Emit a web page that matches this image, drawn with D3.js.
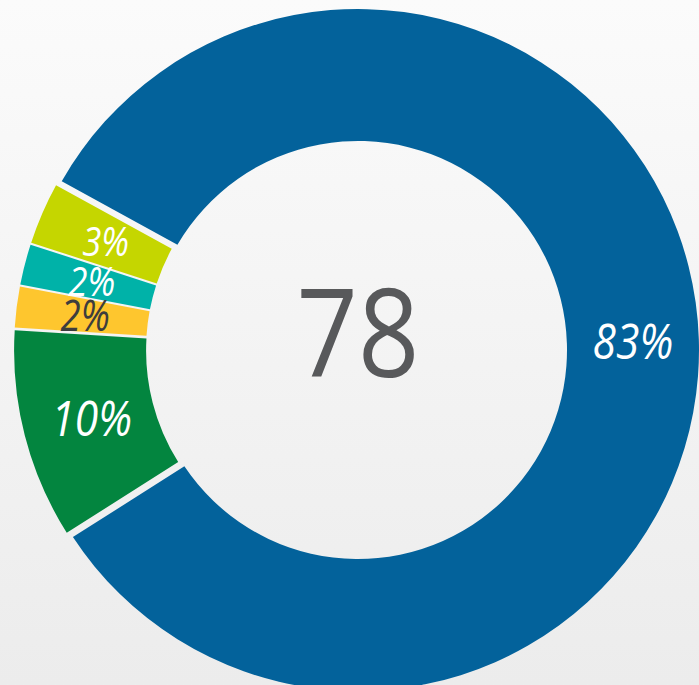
<!DOCTYPE html>
<html>
<head>
<meta charset="utf-8">
<title>Donut</title>
<script src="https://d3js.org/d3.v7.min.js"></script>
<style>
  html, body { margin: 0; padding: 0; }
  body { width: 699px; height: 685px; overflow: hidden; }
  svg { display: block; }
  .lbl { font-family: "Open Sans", sans-serif; font-style: italic; }
  .total { font-family: "Open Sans", sans-serif; fill: #58595b; }
</style>
</head>
<body>
<svg width="699" height="685"></svg>
<script>
// data
var categories = ["A", "B", "C", "D", "E"];
var values = [83, 10, 2, 2, 3];
var labels = ["83%", "10%", "2%", "2%", "3%"];
var colors = ["#03629b", "#03853f", "#fec62e", "#00b2a8", "#c5d600"];
var labelColors = ["#fff", "#fff", "#3d3d3d", "#fff", "#fff"];
var labelSizes = [50, 50, 43, 41, 41];
var centerText = "78";

var svg = d3.select("svg"),
    width = +svg.attr("width"),
    height = +svg.attr("height"),
    cx = 358, cy = 350,
    outerR = 341, innerR = 209;

// background gradient
var defs = svg.append("defs");
var grad = defs.append("linearGradient").attr("id", "bg")
  .attr("x1", 0).attr("y1", 0).attr("x2", 0).attr("y2", 1);
grad.append("stop").attr("offset", "0%").attr("stop-color", "#fbfbfb");
grad.append("stop").attr("offset", "100%").attr("stop-color", "#ececec");
svg.append("rect").attr("width", width).attr("height", height).attr("fill", "url(#bg)");

var pie = d3.pie().sort(null)
  .startAngle(-61.2 * Math.PI / 180)
  .endAngle((360 - 61.2) * Math.PI / 180);

var arcs = pie(values);

var arc = d3.arc()
  .innerRadius(innerR)
  .outerRadius(outerR)
  .padRadius(400)
  .padAngle(function(d) { return d.index === 0 ? 0.026 : 0.004; });

var labelArc = d3.arc()
  .innerRadius((innerR + outerR) / 2)
  .outerRadius((innerR + outerR) / 2);

// small slices pulled out a little
function offset(d) {
  if (d.index === 0) return [0, 0];
  var a = (d.startAngle + d.endAngle) / 2;
  return [3 * Math.sin(a), -3 * Math.cos(a)];
}

var g = svg.append("g").attr("transform", "translate(" + cx + "," + cy + ")");

g.selectAll("path")
  .data(arcs)
  .enter().append("path")
  .attr("transform", function(d) { return "translate(" + offset(d) + ")"; })
  .attr("d", arc)
  .attr("fill", function(d, i) { return colors[i]; });

g.selectAll(".lbl")
  .data(arcs)
  .enter().append("text")
  .attr("class", "lbl")
  .attr("transform", function(d) { return "translate(" + labelArc.centroid(d) + ") scale(0.85,1)"; })
  .attr("text-anchor", "middle")
  .attr("dy", "0.36em")
  .attr("font-size", function(d, i) { return labelSizes[i]; })
  .attr("fill", function(d, i) { return labelColors[i]; })
  .text(function(d, i) { return labels[i]; });

g.append("text")
  .attr("class", "total")
  .attr("transform", "translate(0,27) scale(0.88,1)")
  .attr("text-anchor", "middle")
  .attr("font-size", 122)
  .text(centerText);
</script>
</body>
</html>
